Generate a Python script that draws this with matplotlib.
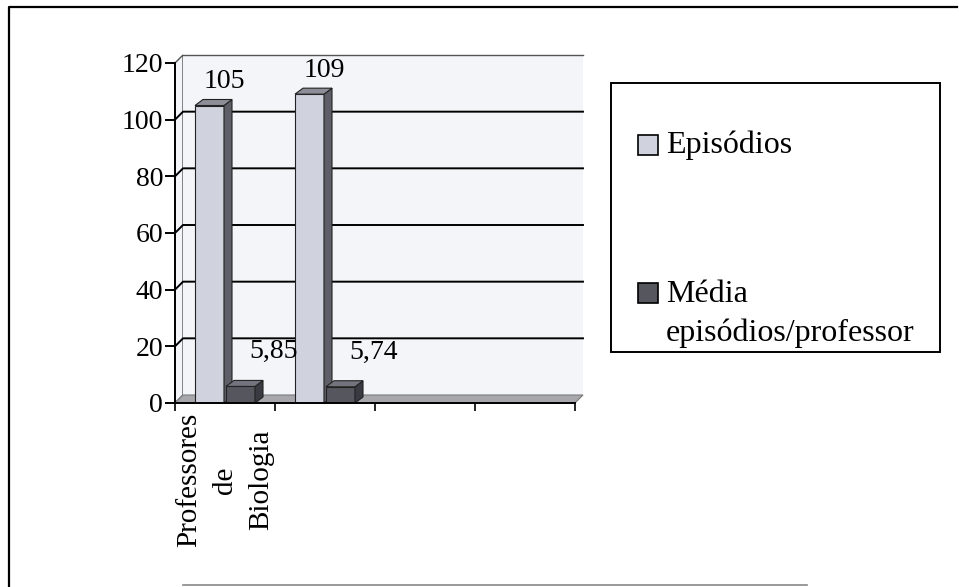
import matplotlib
matplotlib.use("Agg")
import matplotlib.pyplot as plt
from matplotlib.patches import Polygon, Rectangle

plt.rcParams['font.family'] = ['Liberation Serif', 'DejaVu Serif']

# categorias do eixo x (apenas a primeira tem rótulo)
categorias = ["Professores\nde\nBiologia", "", "", ""]
episodios = [105, 109]
media = [5.85, 5.74]
series = ["Episódios", "Média\nepisódios/professor"]
yticks = [0, 20, 40, 60, 80, 100, 120]

W, H = 959, 587
fig = plt.figure(figsize=(W / 100, H / 100), dpi=100)
fig.patch.set_facecolor("white")

# área do gráfico em pixels: eixo y em x=175, base em y=403, topo em y=63
ax = fig.add_axes([175 / W, (H - 403) / H, 400 / W, 340 / H])
ax.set_xlim(0, len(categorias))
ax.set_ylim(0, 120)
ax.patch.set_visible(False)

px_x = 1 / 100.0          # unidades de x por pixel
px_y = 120 / 340.0        # unidades de y por pixel
wall_dx, wall_dy = 8 * px_x, 8 * px_y
bar_dx, bar_dy = 8 * px_x, 6 * px_y
ncat = len(categorias)

wall_col = "#f3f5f8"
# parede lateral e parede do fundo
ax.add_patch(Polygon([(0, 0), (wall_dx, wall_dy), (wall_dx, 120 + wall_dy), (0, 120)],
                     closed=True, fc=wall_col, ec="#555555", lw=1.0, zorder=0, clip_on=False))
ax.add_patch(Rectangle((wall_dx, wall_dy), ncat, 120, fc=wall_col, ec="none",
                       zorder=0, clip_on=False))
ax.plot([wall_dx, ncat + wall_dx], [120 + wall_dy] * 2, color="#555555", lw=1.0,
        zorder=1, clip_on=False)
# piso
ax.add_patch(Polygon([(0, 0), (ncat, 0), (ncat + wall_dx, wall_dy), (wall_dx, wall_dy)],
                     closed=True, fc="#a8a8ac", ec="#7a7a7a", lw=0.8, zorder=1, clip_on=False))

# linhas de grade (lateral inclinada + fundo)
for v in yticks[1:-1]:
    ax.plot([0, wall_dx, ncat + wall_dx], [v, v + wall_dy, v + wall_dy],
            color="black", lw=1.4, zorder=1, clip_on=False)


def caixa(x0, w, h, face, lado, topo):
    ax.bar(x0, h, width=w, align="edge", color=face, edgecolor="#222222", lw=0.8, zorder=3)
    ax.add_patch(Polygon([(x0 + w, 0), (x0 + w + bar_dx, bar_dy),
                          (x0 + w + bar_dx, h + bar_dy), (x0 + w, h)],
                         closed=True, fc=lado, ec="#222222", lw=0.8, zorder=3, clip_on=False))
    ax.add_patch(Polygon([(x0, h), (x0 + w, h), (x0 + w + bar_dx, h + bar_dy),
                          (x0 + bar_dx, h + bar_dy)],
                         closed=True, fc=topo, ec="#222222", lw=0.8, zorder=3, clip_on=False))


def rotulo(v):
    return f"{v:g}".replace(".", ",")


cor_ep = ("#d0d3de", "#5e5e68", "#8e8e98")
cor_md = ("#56565f", "#3a3a42", "#74747e")
bw = 0.29
for i in range(len(episodios)):
    c = i + 0.5
    caixa(c - 0.30, bw, episodios[i], *cor_ep)
    caixa(c + 0.01, bw, media[i], *cor_md)
    ax.annotate(rotulo(episodios[i]), (c - 0.30 + bw / 2, episodios[i]),
                xytext=(11, 8), textcoords="offset points", ha="center", va="bottom",
                fontsize=20, zorder=5, annotation_clip=False)
    ax.annotate(rotulo(media[i]), (c + 0.01 + bw / 2, media[i]),
                xytext=(24, 16), textcoords="offset points", ha="center", va="bottom",
                fontsize=20, zorder=5, annotation_clip=False)

# eixos
for s in ["top", "right"]:
    ax.spines[s].set_visible(False)
ax.spines["left"].set_linewidth(1.4)
ax.spines["bottom"].set_linewidth(1.4)
ax.spines["left"].set_zorder(4)
ax.spines["bottom"].set_zorder(4)
ax.set_yticks(yticks)
ax.set_yticklabels([str(t) for t in yticks])
ax.tick_params(axis="y", direction="out", length=7, width=1.4, pad=1.5, labelsize=20)
ax.set_xticks(range(ncat + 1))
ax.set_xticklabels([""] * (ncat + 1))
ax.tick_params(axis="x", which="major", direction="out", length=6, width=1.2)
ax.set_xticks([i + 0.5 for i in range(ncat)], minor=True)
ax.set_xticklabels(categorias, minor=True, rotation=90, va="top", ha="center",
                   multialignment="center", fontsize=21)
ax.tick_params(axis="x", which="minor", length=0, pad=7)
for t in ax.get_xticklabels(minor=True):
    t.set_linespacing(1.5)

# camada em pixels para moldura e legenda
ov = fig.add_axes([0, 0, 1, 1], zorder=-1)
ov.set_xlim(0, W)
ov.set_ylim(H, 0)
ov.axis("off")
ov.plot([9, 9, 957], [587, 7, 7], color="black", lw=1.6)
ov.plot([183, 807], [585, 585], color="#888888", lw=1.2)

leg = fig.add_axes([0, 0, 1, 1], zorder=5)
leg.set_xlim(0, W)
leg.set_ylim(H, 0)
leg.axis("off")
leg.add_patch(Rectangle((611, 83), 329, 269, fc="white", ec="black", lw=1.4))
leg.add_patch(Rectangle((638, 135), 20, 20, fc=cor_ep[0], ec="black", lw=1.2))
leg.text(666, 145, series[0], fontsize=23, va="center", ha="left")
leg.add_patch(Rectangle((638, 283), 20, 20, fc=cor_md[0], ec="black", lw=1.2))
leg.text(666, 314, series[1], fontsize=23, va="center", ha="left", linespacing=1.45)

fig.savefig("out.png", dpi=100)
